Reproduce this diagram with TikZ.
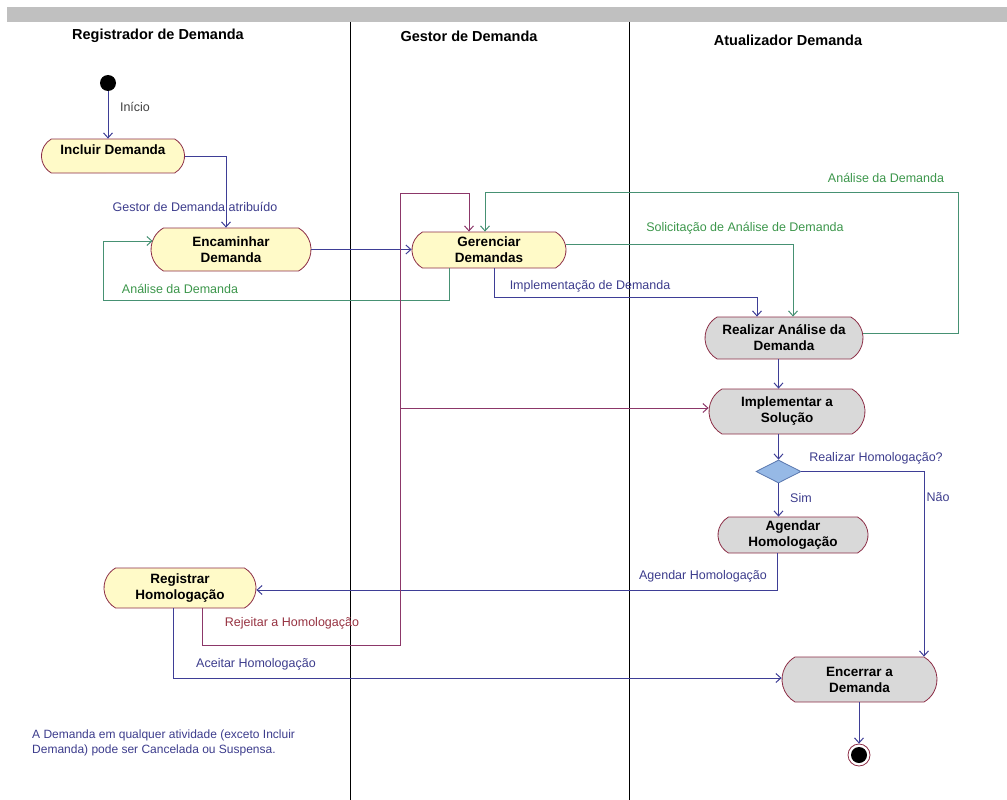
\documentclass[tikz,border=0pt]{standalone}
\usepackage{fontspec}
\setmainfont{Liberation Sans}
\usetikzlibrary{shapes.misc,shapes.geometric,arrows.meta}
\definecolor{navy}{RGB}{62,62,150}
\definecolor{navytxt}{RGB}{60,60,140}
\definecolor{grnline}{RGB}{70,145,115}
\definecolor{grntxt}{RGB}{60,150,75}
\definecolor{magline}{RGB}{140,55,105}
\definecolor{magtxt}{RGB}{150,50,65}
\definecolor{nodeborder}{RGB}{140,45,70}
\definecolor{ylw}{RGB}{255,250,200}
\definecolor{gry}{RGB}{217,217,217}
\definecolor{barcol}{RGB}{192,192,192}
\definecolor{diafill}{RGB}{150,185,230}
\definecolor{diaborder}{RGB}{90,120,175}
\begin{document}
\begin{tikzpicture}[x=1pt,y=-1pt,
  act/.style={rounded rectangle, rounded rectangle arc length=120, draw=nodeborder, line width=0.8pt,
    inner xsep=2pt, inner ysep=0pt, align=center, font=\fontsize{13.5}{16}\selectfont\bfseries},
  yact/.style={act, fill=ylw},
  gact/.style={act, fill=gry},
  lane/.style={font=\fontsize{14.5}{17}\selectfont\bfseries, inner sep=0pt},
  lbl/.style={font=\fontsize{12.5}{15}\selectfont, inner sep=0pt, text=navytxt},
  glbl/.style={lbl, text=grntxt},
  mlbl/.style={lbl, text=magtxt},
  tip/.style={-{Straight Barb[length=5pt,width=9pt]}},
  nav/.style={draw=navy, line width=1pt, tip},
  grn/.style={draw=grnline, line width=1pt, tip},
  mag/.style={draw=magline, line width=1pt, tip},
]
\useasboundingbox (0,0) rectangle (1007,800);
% header bar and swimlanes
\fill[barcol] (7,7) rectangle (1007,22);
\draw[line width=1pt] (350,22) -- (350,800);
\draw[line width=1pt] (629,22) -- (629,800);
\node[lane] (t1) at (158,36) {Registrador de Demanda};
\node[lane] (t2) at (469,36) {Gestor de Demanda};
\node[lane] (t3) at (788,40) {Atualizador Demanda};

% nodes
\node[circle, fill=black, minimum size=16pt, inner sep=0pt] (start) at (108,83) {};
\node[yact, minimum width=147pt, minimum height=34pt] (inc) at (113,156) {\raisebox{12pt}{Incluir Demanda}};
\node[yact, minimum width=164pt, minimum height=43pt] (enc) at (231,249.5) {Encaminhar\\Demanda};
\node[yact, minimum width=158pt, minimum height=36pt] (ger) at (489,250) {Gerenciar\\Demandas};
\node[gact, minimum width=162pt, minimum height=42pt] (rea) at (784,338) {Realizar Análise da\\Demanda};
\node[gact, minimum width=160pt, minimum height=45pt] (imp) at (787,411.5) {Implementar a\\Solução};
\node[diamond, draw=diaborder, fill=diafill, line width=0.8pt, minimum width=45pt, minimum height=23pt, inner sep=0pt] (dia) at (778.5,471.5) {};
\node[gact, minimum width=154pt, minimum height=36pt] (age) at (793,535) {Agendar\\Homologação};
\node[yact, minimum width=156pt, minimum height=40pt] (reg) at (180,588) {Registrar\\Homologação};
\node[gact, minimum width=159pt, minimum height=45pt] (enc2) at (859.5,679.5) {Encerrar a\\Demanda};
\node[circle, draw=nodeborder, fill=white, line width=0.8pt, minimum size=22pt, inner sep=0pt] (endc) at (859,755) {};
\fill[black] (endc.center) circle (8);

% helper coordinates
\coordinate (gl1) at (103,300);
\coordinate (ic) at (757,297);
\coordinate (ga2) at (958,192);
\coordinate (rj1) at (400,645);
\coordinate (rj2) at (400,193);
\coordinate (rj3) at (400,408);

% connectors
\draw[nav] (start) -- (start |- inc.north);
\draw[nav] (inc.east) -| ([xshift=-5pt]enc.north);
\draw[nav] (enc.east) -- (enc.east -| ger.west);
\draw[grn] ([xshift=-40pt]ger.south) |- (gl1) |- ([xshift=2pt,yshift=8.5pt]enc.west);
\draw[grn] ([yshift=6pt]ger.east) -| ([xshift=9pt]rea.north);
\draw[nav] ([xshift=5pt]ger.south) |- (ic) -- ([xshift=-27pt]rea.north);
\draw[grn] ([yshift=5pt]rea.east) -| (ga2) -| ([xshift=-4pt]ger.north);
\draw[nav] (rea.south -| dia) -- (imp.north -| dia);
\draw[nav] (imp.south -| dia) -- (dia.north);
\draw[nav] (dia.south) -- (age.north -| dia);
\draw[nav] (dia.east) -| ([xshift=64.5pt]enc2.north);
\draw[nav] ([xshift=-16pt]age.south) |- ([yshift=-2pt]reg.east);
\draw[mag] ([xshift=22pt]reg.south) |- (rj1) -- (rj2) -| ([xshift=-20pt]ger.north);
\draw[mag] (rj3) -- (rj3 -| imp.west);
\draw[nav] ([xshift=-7pt]reg.south) |- ([yshift=1.5pt]enc2.west);
\draw[nav] (enc2.south -| endc) -- (endc.north);

% labels
\node[lbl, text=black!75] (l1) at (135,107) {Início};
\node[lbl] (l2) at (195,207) {Gestor de Demanda atribuído};
\node[glbl] (l3) at (180,289) {Análise da Demanda};
\node[glbl] (l4) at (745,228) {Solicitação de Análise de Demanda};
\node[lbl] (l5) at (590,286) {Implementação de Demanda};
\node[glbl] (l6) at (886,178) {Análise da Demanda};
\node[lbl] (l7) at (876,458) {Realizar Homologação?};
\node[lbl] (l8) at (801,498) {Sim};
\node[lbl] (l9) at (938,497) {Não};
\node[lbl] (l10) at (703,576) {Agendar Homologação};
\node[mlbl] (l11) at (292,623) {Rejeitar a Homologação};
\node[lbl] (l12) at (256,664) {Aceitar Homologação};
\node[lbl, anchor=north west, align=left, font=\fontsize{12}{15}\selectfont] (note) at (32,730)
  {A Demanda em qualquer atividade (exceto Incluir\\Demanda) pode ser Cancelada ou Suspensa.};
\end{tikzpicture}
\end{document}
